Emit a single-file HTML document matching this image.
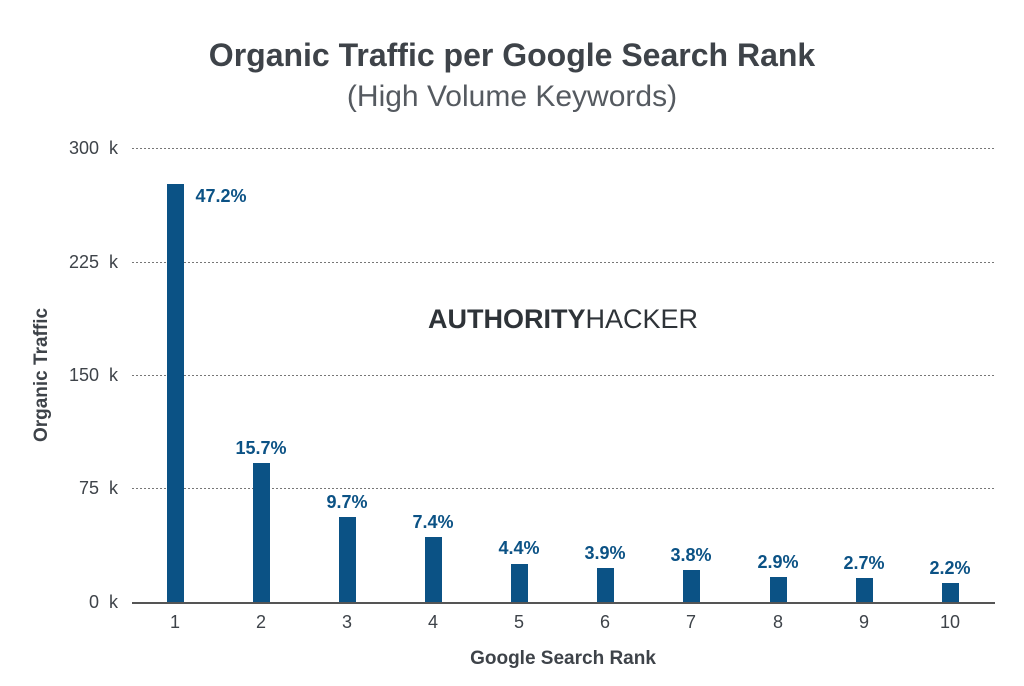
<!DOCTYPE html>
<html><head><style>body{margin:0;background:#fff}svg{display:block}</style></head><body>
<svg width="1024" height="686" xmlns="http://www.w3.org/2000/svg" font-family="Liberation Sans, sans-serif">
<rect width="1024" height="686" fill="#fff"/>
<text x="512" y="66" text-anchor="middle" font-size="32" font-weight="bold" fill="#3e4349">Organic Traffic per Google Search Rank</text>
<text x="512" y="106" text-anchor="middle" font-size="30" fill="#555a60">(High Volume Keywords)</text>
<g stroke="#777" stroke-width="1" stroke-dasharray="2,2">
<line x1="132" x2="995" y1="148.5" y2="148.5"/>
<line x1="132" x2="995" y1="262.5" y2="262.5"/>
<line x1="132" x2="995" y1="375.5" y2="375.5"/>
<line x1="132" x2="995" y1="488.5" y2="488.5"/>
</g>
<g font-size="18" fill="#3e4349" text-anchor="end">
<text x="118" y="154">300&#160;&#160;k</text>
<text x="118" y="268">225&#160;&#160;k</text>
<text x="118" y="381">150&#160;&#160;k</text>
<text x="118" y="494">75&#160;&#160;k</text>
<text x="118" y="608">0&#160;&#160;k</text>
</g>
<text transform="translate(47,375) rotate(-90)" text-anchor="middle" font-size="19" font-weight="bold" fill="#3e4349">Organic Traffic</text>
<text x="563" y="328" text-anchor="middle" font-size="27" fill="#2e3338"><tspan font-weight="bold">AUTHORITY</tspan>HACKER</text>
<g fill="#0b5285">
<rect x="167" y="184" width="17" height="419"/>
<rect x="253" y="463" width="17" height="140"/>
<rect x="339" y="517" width="17" height="86"/>
<rect x="425" y="537" width="17" height="66"/>
<rect x="511" y="564" width="17" height="39"/>
<rect x="597" y="568" width="17" height="35"/>
<rect x="683" y="570" width="17" height="33"/>
<rect x="770" y="577" width="17" height="26"/>
<rect x="856" y="578" width="17" height="25"/>
<rect x="942" y="583" width="17" height="20"/>
</g>
<line x1="132" x2="995" y1="603" y2="603" stroke="#555" stroke-width="2"/>
<g font-size="18" font-weight="bold" fill="#0b5285" text-anchor="middle">
<text x="221" y="202">47.2%</text>
<text x="261" y="454">15.7%</text>
<text x="347" y="508">9.7%</text>
<text x="433" y="528">7.4%</text>
<text x="519" y="554">4.4%</text>
<text x="605" y="559">3.9%</text>
<text x="691" y="561">3.8%</text>
<text x="778" y="568">2.9%</text>
<text x="864" y="569">2.7%</text>
<text x="950" y="574">2.2%</text>
</g>
<g font-size="18" fill="#3e4349" text-anchor="middle">
<text x="175" y="628">1</text><text x="261" y="628">2</text><text x="347" y="628">3</text>
<text x="433" y="628">4</text><text x="519" y="628">5</text><text x="605" y="628">6</text>
<text x="691" y="628">7</text><text x="778" y="628">8</text><text x="864" y="628">9</text>
<text x="950" y="628">10</text>
</g>
<text x="563" y="664" text-anchor="middle" font-size="19" font-weight="bold" fill="#3e4349">Google Search Rank</text>
</svg>
</body></html>
